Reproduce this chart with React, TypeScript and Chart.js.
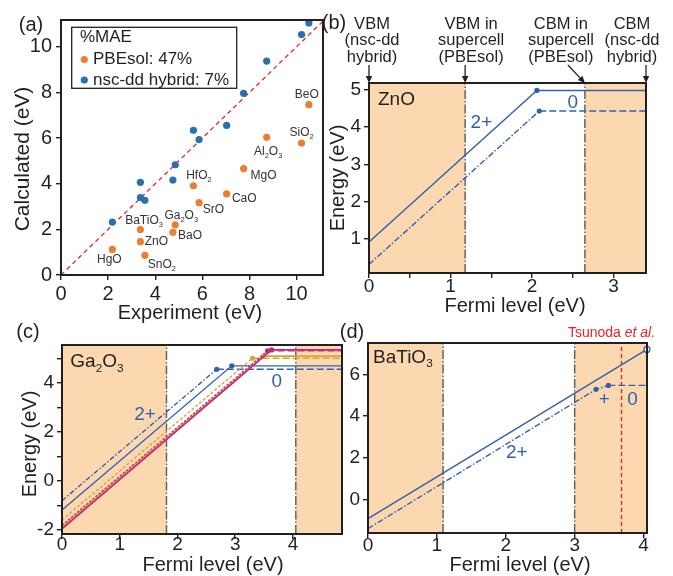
import React, { useEffect, useRef } from 'react';
import { Chart, registerables } from 'chart.js';
Chart.register(...registerables);

const W = 673;
const H = 576;
const FONT = "'Liberation Sans', Arial, Helvetica, sans-serif";
const INK = '#231f20';
const ORANGE = '#EF7D31';
const BLUE_DOT = '#2A70AA';
const BLUE = '#3360AE';
const GOLD = '#D4A537';
const MAGENTA = '#C2297B';
const PEACH = '#FCD8B0';
const GRAY = '#5a5a5a';
const RED = '#E5252B';
const Y_AXIS_W = 58;
const X_AXIS_H = 30;

// ---------- (a) band gaps ----------
const oxides = ['HgO', 'ZnO', 'SnO_2', 'BaTiO_3', 'BaO', 'Ga_2O_3', 'SrO', 'HfO_2', 'CaO', 'MgO', 'Al_2O_3', 'SiO_2', 'BeO'];
const experimentGap = [2.18, 3.37, 3.56, 3.37, 4.75, 4.85, 5.86, 5.62, 7.03, 7.75, 8.73, 10.21, 10.52];
const pbesolGap = [1.12, 1.46, 0.86, 1.99, 1.87, 2.2, 3.17, 3.91, 3.55, 4.66, 6.03, 5.78, 7.46];
const hybridGap = [2.32, 3.39, 3.27, 4.06, 4.16, 4.83, 5.93, 6.34, 6.55, 7.96, 9.37, 10.53, 11.04];
const maeTitle = '%MAE';
const maeLabels = ['PBEsol: 47%', 'nsc-dd hybrid: 7%'];
const aRangeX = [0, 11.12];
const aRangeY = [0, 11.17];

// ---------- (b) ZnO ----------
const znoBands = [[0, 1.18], [2.65, 3.4]];
const znoEdges = [0, 1.18, 2.65, 3.4];
const znoEdgeNames = [
  ['VBM', '(nsc-dd', 'hybrid)'],
  ['VBM in', 'supercell', '(PBEsol)'],
  ['CBM in', 'supercell', '(PBEsol)'],
  ['CBM', '(nsc-dd', 'hybrid)'],
];
const znoSolidX = [0, 2.06, 3.4];
const znoSolidE = [0.92, 4.98, 4.98];
const znoDashX = [0, 2.09, 3.4];
const znoDashE = [0.32, 4.43, 4.43];
const bRangeX = [0, 3.4];
const bRangeY = [0.09, 5.18];

// ---------- (c) Ga2O3 ----------
const ga2o3Bands = [[0, 1.81], [4.05, 4.85]];
const ga2o3Edges = [1.81, 4.05];
const ga2o3AtZero = [-0.81, -1.19, -1.6, -1.89, -1.82, -1.96];
const ga2o3KinkX = [2.68, 2.94, 3.3, 3.49, 3.56, 3.63];
const ga2o3KinkE = [4.55, 4.69, 5.0, 5.09, 5.3, 5.34];
const cRangeX = [0, 4.85];
const cRangeY = [-2.17, 5.54];

// ---------- (d) BaTiO3 ----------
const batio3Bands = [[0, 1.09], [3.0, 4.05]];
const batio3Edges = [1.09, 3.0];
const tsunodaLevel = 3.68;
const batio3SolidX = [0, 4.05];
const batio3SolidE = [-0.91, 7.19];
const batio3DashX = [0, 3.31, 3.49, 4.05];
const batio3DashE = [-1.39, 5.28, 5.47, 5.47];
const dRangeX = [0, 4.05];
const dRangeY = [-1.6, 7.5];

// ---------- helpers ----------
function richText(ctx: CanvasRenderingContext2D, text: string, x: number, y: number, size: number, align = 'center', color = INK) {
  const parts: { t: string; sub: boolean }[] = [];
  for (let i = 0; i < text.length; i++) {
    if (text[i] === '_' && i + 1 < text.length) {
      parts.push({ t: text[i + 1], sub: true });
      i++;
    } else {
      const last = parts[parts.length - 1];
      if (last && !last.sub) last.t += text[i];
      else parts.push({ t: text[i], sub: false });
    }
  }
  const sub = size * 0.62;
  ctx.save();
  ctx.textBaseline = 'middle';
  ctx.textAlign = 'left';
  ctx.fillStyle = color;
  let total = 0;
  for (const p of parts) {
    ctx.font = `${p.sub ? sub : size}px ${FONT}`;
    total += ctx.measureText(p.t).width;
  }
  let cx = align === 'center' ? x - total / 2 : align === 'right' ? x - total : x;
  for (const p of parts) {
    ctx.font = `${p.sub ? sub : size}px ${FONT}`;
    ctx.fillText(p.t, cx, p.sub ? y + size * 0.33 : y);
    cx += ctx.measureText(p.t).width;
  }
  ctx.restore();
}

function vText(ctx: CanvasRenderingContext2D, text: string, x: number, y: number, size: number) {
  ctx.save();
  ctx.translate(x, y);
  ctx.rotate(-Math.PI / 2);
  ctx.font = `${size}px ${FONT}`;
  ctx.fillStyle = INK;
  ctx.textAlign = 'center';
  ctx.textBaseline = 'middle';
  ctx.fillText(text, 0, 0);
  ctx.restore();
}

function shade(chart: any, bands: number[][]) {
  const ctx = chart.ctx;
  const { top, bottom } = chart.chartArea;
  const xs = chart.scales.x;
  ctx.save();
  ctx.fillStyle = PEACH;
  for (const [a, b] of bands) {
    const x1 = xs.getPixelForValue(a);
    const x2 = xs.getPixelForValue(b);
    ctx.fillRect(x1, top, x2 - x1, bottom - top);
  }
  ctx.restore();
}

function vLine(chart: any, v: number, color: string, dash: number[], width: number) {
  const ctx = chart.ctx;
  const { top, bottom } = chart.chartArea;
  const x = chart.scales.x.getPixelForValue(v);
  ctx.save();
  ctx.strokeStyle = color;
  ctx.lineWidth = width;
  ctx.setLineDash(dash);
  ctx.beginPath();
  ctx.moveTo(x, bottom);
  ctx.lineTo(x, top);
  ctx.stroke();
  ctx.restore();
}

function frame(chart: any) {
  const ctx = chart.ctx;
  const { left, top, right, bottom } = chart.chartArea;
  ctx.save();
  ctx.strokeStyle = INK;
  ctx.lineWidth = 2;
  ctx.strokeRect(left, top, right - left, bottom - top);
  ctx.restore();
}

function label(ctx: CanvasRenderingContext2D, text: string, x: number, y: number, size: number, color = INK, align: CanvasTextAlign = 'center') {
  ctx.save();
  ctx.font = `${size}px ${FONT}`;
  ctx.fillStyle = color;
  ctx.textAlign = align;
  ctx.textBaseline = 'middle';
  ctx.fillText(text, x, y);
  ctx.restore();
}

function arrow(ctx: CanvasRenderingContext2D, x0: number, y0: number, x1: number, y1: number) {
  const ang = Math.atan2(y1 - y0, x1 - x0);
  const len = 7;
  const hw = 3.2;
  const bx = x1 - Math.cos(ang) * len;
  const by = y1 - Math.sin(ang) * len;
  ctx.save();
  ctx.strokeStyle = INK;
  ctx.fillStyle = INK;
  ctx.lineWidth = 1.3;
  ctx.beginPath();
  ctx.moveTo(x0, y0);
  ctx.lineTo(bx, by);
  ctx.stroke();
  ctx.beginPath();
  ctx.moveTo(x1, y1);
  ctx.lineTo(bx - Math.sin(ang) * hw, by + Math.cos(ang) * hw);
  ctx.lineTo(bx + Math.sin(ang) * hw, by - Math.cos(ang) * hw);
  ctx.closePath();
  ctx.fill();
  ctx.restore();
}

function axis(range: number[], step: number, size: number, pad: number, fmt?: (v: number) => string) {
  return {
    type: 'linear' as const,
    min: range[0],
    max: range[1],
    afterFit: (s: any) => {
      if (s.isHorizontal()) s.height = X_AXIS_H;
      else s.width = Y_AXIS_W;
    },
    grid: { display: true, drawOnChartArea: false, drawTicks: true, tickLength: 5, color: INK, lineWidth: 1.4 },
    border: { display: false },
    ticks: {
      stepSize: step,
      includeBounds: false,
      autoSkip: false,
      maxRotation: 0,
      minRotation: 0,
      color: INK,
      padding: pad,
      font: { family: FONT, size },
      callback: (v: any) => (fmt ? fmt(Number(v)) : String(Math.round(Number(v) * 100) / 100)),
    },
  };
}

function lineSet(xs: number[], ys: number[], color: string, width: number, diagDash: number[], flatDash: number[], radius: number[], extra: any = {}) {
  return {
    showLine: true,
    data: xs.map((x, i) => ({ x, y: ys[i] })),
    borderColor: color,
    backgroundColor: color,
    borderWidth: width,
    pointRadius: radius,
    pointBorderWidth: 0,
    clip: false,
    segment: {
      borderDash: (c: any) => (c.p1DataIndex === xs.length - 1 ? flatDash : diagDash),
    },
    ...extra,
  };
}

type Area = { l: number; t: number; r: number; b: number };

function build(canvas: HTMLCanvasElement, area: Area, scales: any, datasets: any[], plugin: any) {
  return new Chart(canvas, {
    type: 'scatter',
    data: { datasets },
    options: {
      responsive: false,
      animation: false,
      devicePixelRatio: 1,
      events: [],
      layout: {
        padding: { left: area.l - Y_AXIS_W, top: area.t, right: W - area.r, bottom: H - area.b - X_AXIS_H },
      },
      plugins: { legend: { display: false }, tooltip: { enabled: false } },
      scales,
    } as any,
    plugins: [plugin],
  });
}

// ---------- panels ----------
const oxideLabelOffset = [
  [-3, 10], [16, 0.5], [17, 9.5], [3.6, -9], [17.2, 3.7], [6, -9], [14.3, 6.6],
  [5.5, -9.7], [17.6, 5], [20, 7], [1.5, 14.5], [0, -10.5], [-2, -10.5],
];

function makeA(canvas: HTMLCanvasElement) {
  const datasets = [
    {
      data: experimentGap.map((x, i) => ({ x, y: hybridGap[i] })),
      backgroundColor: BLUE_DOT,
      pointRadius: 3.6,
      pointBorderWidth: 0,
      clip: false,
    },
    {
      data: experimentGap.map((x, i) => ({ x, y: pbesolGap[i] })),
      backgroundColor: ORANGE,
      pointRadius: 3.6,
      pointBorderWidth: 0,
      clip: false,
    },
    {
      showLine: true,
      data: [{ x: 0, y: 0 }, { x: aRangeX[1], y: aRangeX[1] }],
      borderColor: RED,
      borderWidth: 1.3,
      borderDash: [4.5, 3.5],
      pointRadius: 0,
    },
  ];
  const plugin = {
    id: 'pa',
    afterDatasetsDraw(chart: any) {
      const ctx = chart.ctx;
      const { left, top, right, bottom } = chart.chartArea;
      const xs = chart.scales.x;
      const ys = chart.scales.y;
      oxides.forEach((name, i) => {
        const px = xs.getPixelForValue(experimentGap[i]) + oxideLabelOffset[i][0];
        const py = ys.getPixelForValue(pbesolGap[i]) + oxideLabelOffset[i][1];
        richText(ctx, name, px, py, 12, 'center', '#333');
      });
      // legend
      ctx.save();
      ctx.fillStyle = '#fff';
      ctx.fillRect(left + 10.7, top + 7.3, 165, 61);
      ctx.strokeStyle = INK;
      ctx.lineWidth = 1.3;
      ctx.strokeRect(left + 10.7, top + 7.3, 165, 61);
      ctx.restore();
      label(ctx, maeTitle, left + 19, top + 17, 17, INK, 'left');
      const colors = [ORANGE, BLUE_DOT];
      maeLabels.forEach((t, i) => {
        const y = top + 39.5 + i * 20.5;
        ctx.save();
        ctx.fillStyle = colors[i];
        ctx.beginPath();
        ctx.arc(left + 23.3, y, 3.6, 0, Math.PI * 2);
        ctx.fill();
        ctx.restore();
        label(ctx, t, left + 32, y, 17, INK, 'left');
      });
      frame(chart);
      label(ctx, '(a)', 31, 25, 20);
      vText(ctx, 'Calculated (eV)', 23, top + 139, 21);
      label(ctx, 'Experiment (eV)', (left + right) / 2 - 2, bottom + 38, 20);
    },
  };
  return build(
    canvas,
    { l: 61, t: 20, r: 323, b: 275 },
    { x: axis(aRangeX, 2, 20, 2), y: axis(aRangeY, 2, 20, 4) },
    datasets,
    plugin,
  );
}

function makeB(canvas: HTMLCanvasElement) {
  const datasets = [
    lineSet(znoSolidX, znoSolidE, BLUE, 1.4, [], [], [0, 2.6, 0]),
    lineSet(znoDashX, znoDashE, BLUE, 1.4, [6, 2, 1.5, 2], [7, 3], [0, 2.6, 0]),
  ];
  const textDx = [3, 6, -24, -14];
  const plugin = {
    id: 'pb',
    beforeDatasetsDraw(chart: any) {
      shade(chart, znoBands);
      vLine(chart, znoEdges[1], GRAY, [9, 2, 1.5, 2], 1.4);
      vLine(chart, znoEdges[2], GRAY, [9, 2, 1.5, 2], 1.4);
    },
    afterDatasetsDraw(chart: any) {
      const ctx = chart.ctx;
      const { left, top, right, bottom } = chart.chartArea;
      const xs = chart.scales.x;
      const ys = chart.scales.y;
      frame(chart);
      znoEdges.forEach((e, i) => {
        const x = xs.getPixelForValue(e);
        znoEdgeNames[i].forEach((line, j) => label(ctx, line, x + textDx[i], top - 59 + j * 16.7, 16.5));
        if (i === 2) arrow(ctx, x - 17, top - 18, x, top);
        else arrow(ctx, x, top - 18, x, top);
      });
      label(ctx, 'ZnO', left + 9, top + 16.6, 19, INK, 'left');
      label(ctx, '2+', xs.getPixelForValue(1.38), ys.getPixelForValue(4.11), 19, BLUE);
      label(ctx, '0', xs.getPixelForValue(2.5), ys.getPixelForValue(4.65), 19, BLUE);
      label(ctx, '(b)', 334, 23, 20);
      vText(ctx, 'Energy (eV)', 338, 178, 20);
      label(ctx, 'Fermi level (eV)', 515, bottom + 33, 20);
    },
  };
  return build(
    canvas,
    { l: 369, t: 83, r: 646, b: 273 },
    {
      x: axis(bRangeX, 0.5, 19, -3, (v) => (Math.abs(v - Math.round(v)) < 1e-6 ? String(Math.round(v)) : '')),
      y: axis(bRangeY, 1, 19, 3),
    },
    datasets,
    plugin,
  );
}

function makeC(canvas: HTMLCanvasElement) {
  const colors = [BLUE, BLUE, GOLD, GOLD, MAGENTA, MAGENTA];
  const diag = [[5, 2, 1.5, 2], [], [3, 2], [], [2.5, 1.5], []];
  const flat = [[7, 3], [], [7, 3], [], [7, 3], []];
  const widths = [1.4, 1.4, 1.4, 1.8, 1.4, 1.6];
  const datasets = ga2o3KinkX
    .map((kx, i) =>
      lineSet([0, kx, cRangeX[1]], [ga2o3AtZero[i], ga2o3KinkE[i], ga2o3KinkE[i]], colors[i], widths[i], diag[i], flat[i], [0, 2.6, 0]),
    )
    .reverse();
  const plugin = {
    id: 'pc',
    beforeDatasetsDraw(chart: any) {
      shade(chart, ga2o3Bands);
      ga2o3Edges.forEach((e) => vLine(chart, e, GRAY, [9, 2, 1.5, 2], 1.4));
    },
    afterDatasetsDraw(chart: any) {
      const ctx = chart.ctx;
      const { left, top, right, bottom } = chart.chartArea;
      const xs = chart.scales.x;
      const ys = chart.scales.y;
      frame(chart);
      richText(ctx, 'Ga_2O_3', left + 8.3, top + 17, 19, 'left');
      label(ctx, '2+', xs.getPixelForValue(1.44), ys.getPixelForValue(2.68), 19, BLUE);
      label(ctx, '0', xs.getPixelForValue(3.72), ys.getPixelForValue(4.04), 19, BLUE);
      label(ctx, '(c)', 28, 332, 20);
      vText(ctx, 'Energy (eV)', 30, 444, 20);
      label(ctx, 'Fermi level (eV)', 213, 565, 20);
    },
  };
  return build(
    canvas,
    { l: 62, t: 345, r: 342, b: 534 },
    {
      x: axis(cRangeX, 1, 19, -6),
      y: axis(cRangeY, 1, 19, 3, (v) => (Math.round(v) % 2 === 0 ? String(Math.round(v)) : '')),
    },
    datasets,
    plugin,
  );
}

function makeD(canvas: HTMLCanvasElement) {
  const datasets = [
    lineSet(batio3SolidX, batio3SolidE, BLUE, 1.4, [], [], [0, 3], {
      pointBackgroundColor: '#fff',
      pointBorderColor: BLUE,
      pointBorderWidth: 1.2,
    }),
    lineSet(batio3DashX, batio3DashE, BLUE, 1.4, [6, 2, 1.5, 2], [7, 3], [0, 2.6, 2.6, 0]),
  ];
  const plugin = {
    id: 'pd',
    beforeDatasetsDraw(chart: any) {
      shade(chart, batio3Bands);
      batio3Edges.forEach((e) => vLine(chart, e, GRAY, [9, 2, 1.5, 2], 1.4));
      vLine(chart, tsunodaLevel, RED, [4, 3], 1.4);
    },
    afterDatasetsDraw(chart: any) {
      const ctx = chart.ctx;
      const { left, top, right, bottom } = chart.chartArea;
      const xs = chart.scales.x;
      const ys = chart.scales.y;
      frame(chart);
      richText(ctx, 'BaTiO_3', left + 5, top + 14.5, 19, 'left');
      label(ctx, '2+', xs.getPixelForValue(2.16), ys.getPixelForValue(2.25), 19, BLUE);
      label(ctx, '+', xs.getPixelForValue(3.43), ys.getPixelForValue(4.78), 19, BLUE);
      label(ctx, '0', xs.getPixelForValue(3.84), ys.getPixelForValue(4.8), 19, BLUE);
      // Tsunoda et al.
      ctx.save();
      ctx.fillStyle = RED;
      ctx.textBaseline = 'middle';
      ctx.textAlign = 'left';
      ctx.font = `14px ${FONT}`;
      const a = 'Tsunoda ';
      const wa = ctx.measureText(a).width;
      ctx.font = `italic 14px ${FONT}`;
      const b = 'et al.';
      const wb = ctx.measureText(b).width;
      const cx = xs.getPixelForValue(tsunodaLevel) - 10;
      const x0 = cx - (wa + wb) / 2;
      ctx.font = `14px ${FONT}`;
      ctx.fillText(a, x0, top - 10);
      ctx.font = `italic 14px ${FONT}`;
      ctx.fillText(b, x0 + wa, top - 10);
      ctx.restore();
      label(ctx, '(d)', 352, 332, 20);
      label(ctx, 'Fermi level (eV)', 520, 565, 20);
    },
  };
  return build(
    canvas,
    { l: 368, t: 343, r: 647, b: 533 },
    { x: axis(dRangeX, 1, 19, -4), y: axis(dRangeY, 2, 19, 3) },
    datasets,
    plugin,
  );
}

function Panel({ make }: { make: (c: HTMLCanvasElement) => Chart }) {
  const ref = useRef<HTMLCanvasElement>(null);
  useEffect(() => {
    const ch = make(ref.current!);
    return () => ch.destroy();
  }, [make]);
  return (
    <canvas
      ref={ref}
      width={W}
      height={H}
      style={{ position: 'absolute', left: 0, top: 0, width: W, height: H }}
    />
  );
}

export default function App() {
  return (
    <div style={{ position: 'absolute', left: 0, top: 0, width: W, height: H, background: '#fff', overflow: 'hidden' }}>
      <Panel make={makeA} />
      <Panel make={makeB} />
      <Panel make={makeC} />
      <Panel make={makeD} />
    </div>
  );
}
